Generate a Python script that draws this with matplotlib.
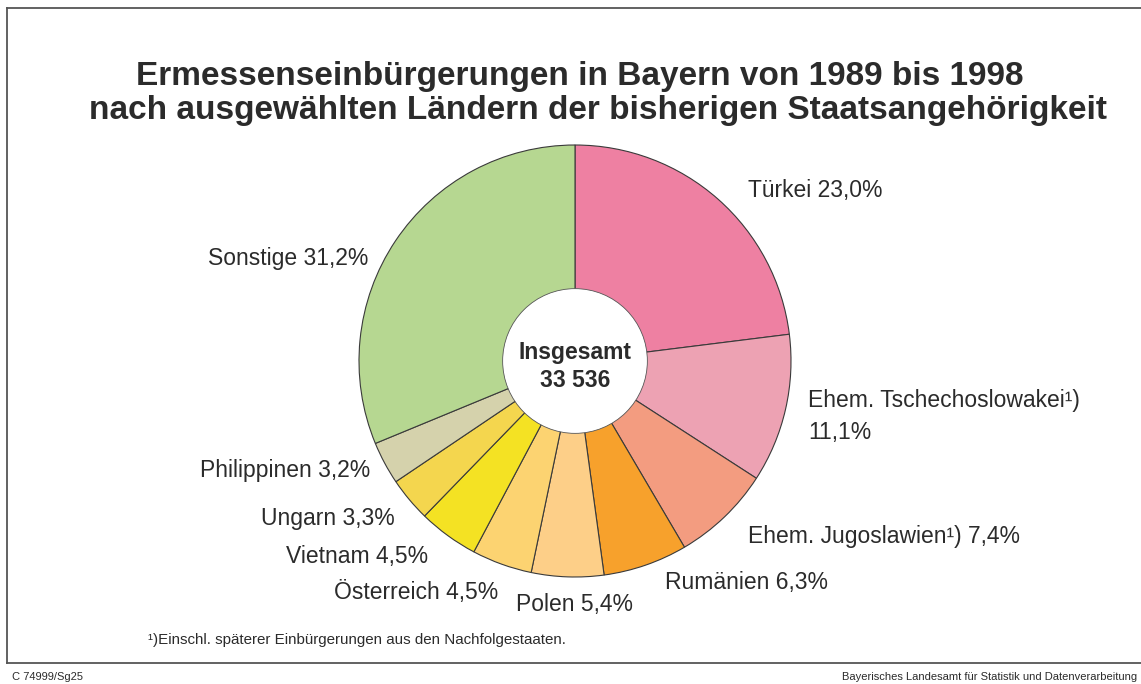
import matplotlib.pyplot as plt
from matplotlib.patches import Circle
from matplotlib.lines import Line2D

# Daten
laender = ['Türkei', 'Ehem. Tschechoslowakei¹)', 'Ehem. Jugoslawien¹)', 'Rumänien',
           'Polen', 'Österreich', 'Vietnam', 'Ungarn', 'Philippinen', 'Sonstige']
anteile = [23.0, 11.1, 7.4, 6.3, 5.4, 4.5, 4.5, 3.3, 3.2, 31.2]
farben = ['#ee80a2', '#eda2b3', '#f39c80', '#f7a12c', '#fdcf88',
          '#fcd371', '#f4e223', '#f4d64e', '#d5d2ac', '#b6d791']
insgesamt = '33 536'

titel1 = 'Ermessenseinbürgerungen in Bayern von 1989 bis 1998'
titel2 = 'nach ausgewählten Ländern der bisherigen Staatsangehörigkeit'
fussnote = '¹)Einschl. späterer Einbürgerungen aus den Nachfolgestaaten.'
quelle = 'Bayerisches Landesamt für Statistik und Datenverarbeitung'
kennung = 'C 74999/Sg25'

W, H = 1141, 684
plt.rcParams['font.family'] = ['Liberation Sans', 'DejaVu Sans']
fig = plt.figure(figsize=(W / 100, H / 100), dpi=100)
fig.patch.set_facecolor('white')
txt = '#2b2b2b'

# Kreis: Mitte (575, 361), Radius 216 px
cx, cy, r = 575, 361, 216
ax = fig.add_axes([(cx - r) / W, (H - cy - r) / H, 2 * r / W, 2 * r / H])
ax.pie(anteile, colors=farben, startangle=90, counterclock=False,
       wedgeprops=dict(edgecolor='#3a3a3a', linewidth=0.8))
ax.add_patch(Circle((0, 0), 0.335, facecolor='white', edgecolor='#555555', linewidth=0.6, zorder=5))
ax.text(0, 0.04, 'Insgesamt', ha='center', va='center', fontsize=16.5, fontweight='bold',
        color=txt, zorder=6)
ax.text(0, -0.09, insgesamt, ha='center', va='center', fontsize=16.5, fontweight='bold',
        color=txt, zorder=6)
ax.set_xlim(-1, 1)
ax.set_ylim(-1, 1)
ax.set_aspect('equal')
ax.axis('off')


def fx(x):
    return x / W


def fy(y):
    return 1 - y / H


def fmt(v):
    return f'{v:.1f}%'.replace('.', ',')


# Beschriftungen (Pixelposition: x, y-Mitte, Ausrichtung)
pos = {
    'Türkei': (748, 191, 'left'),
    'Ehem. Jugoslawien¹)': (748, 536, 'left'),
    'Rumänien': (665, 582, 'left'),
    'Polen': (516, 604, 'left'),
    'Österreich': (498, 592, 'right'),
    'Vietnam': (428, 556, 'right'),
    'Ungarn': (395, 518, 'right'),
    'Philippinen': (370, 470, 'right'),
    'Sonstige': (368, 259, 'right'),
}
lab_fs = 16.5
for name, wert in zip(laender, anteile):
    if name in pos:
        x, y, ha = pos[name]
        fig.text(fx(x), fy(y), f'{name} {fmt(wert)}', ha=ha, va='center',
                 fontsize=lab_fs, color=txt)
    else:
        fig.text(fx(808), fy(401), name, ha='left', va='center', fontsize=lab_fs, color=txt)
        fig.text(fx(808), fy(433), fmt(wert), ha='left', va='center', fontsize=lab_fs, color=txt)

fig.text(fx(580), fy(77), titel1, ha='center', va='center', fontsize=24, fontweight='bold', color=txt)
fig.text(fx(598), fy(110), titel2, ha='center', va='center', fontsize=24, fontweight='bold', color=txt)
fig.text(fx(148), fy(640), fussnote, ha='left', va='center', fontsize=10.9, color=txt)
fig.text(fx(12), fy(677), kennung, ha='left', va='center', fontsize=8, color=txt)
fig.text(fx(1137), fy(677), quelle, ha='right', va='center', fontsize=8, color=txt)

# Rahmen
rahmen = dict(color='#555555', linewidth=1.3, transform=fig.transFigure)
fig.add_artist(Line2D([fx(7), 1], [fy(8), fy(8)], **rahmen))
fig.add_artist(Line2D([fx(7), fx(7)], [fy(8), fy(663)], **rahmen))
fig.add_artist(Line2D([fx(7), 1], [fy(663), fy(663)], **rahmen))

fig.savefig('out.png', dpi=100)
